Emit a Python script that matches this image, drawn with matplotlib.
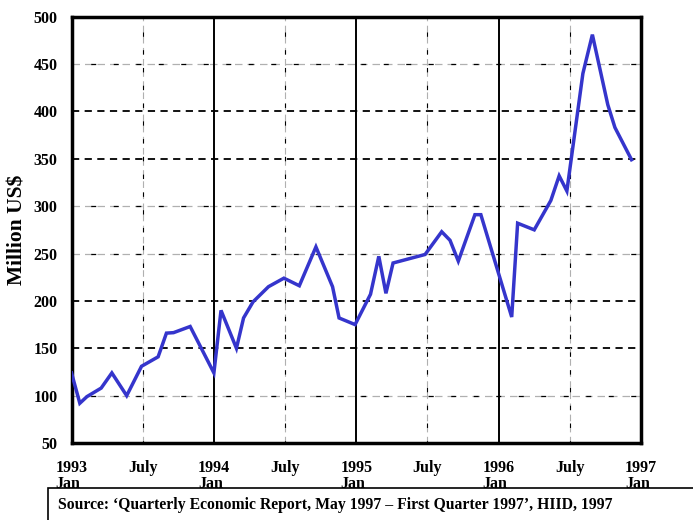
import numpy as np
import matplotlib.pyplot as plt
from matplotlib.patches import Rectangle

# months since Jan 1993 (readings are not exactly on month boundaries)
months = [0.0, 0.7, 1.3, 2.5, 3.4, 4.65, 5.9, 7.3, 8.0, 8.6, 10.0, 12.0, 12.6,
          13.9, 14.5, 15.3, 16.6, 17.9, 19.2, 20.6, 22.0, 22.55, 23.9, 25.2,
          25.9, 26.5, 27.1, 29.8, 31.2, 31.9, 32.6, 34.0, 34.5, 37.1, 37.6,
          39.0, 40.4, 41.1, 41.75, 43.1, 43.9, 45.2, 45.8, 47.2]
exports = [124, 92, 99, 108, 124, 100, 131, 141, 166, 166.5, 173, 124, 190,
           150, 182, 199, 215, 224, 216, 257, 215, 182, 175, 207,
           247, 208, 240, 249, 273, 264, 242, 291, 291, 183, 282,
           275, 306, 332, 316, 440, 481, 407, 383, 349]

tick_pos = [0, 6, 12, 18, 24, 30, 36, 42, 48]
tick_labels = ['1993\nJan', 'July', '1994\nJan', 'July', '1995\nJan', 'July',
               '1996\nJan', 'July', '1997\nJan']
y_ticks = [50, 100, 150, 200, 250, 300, 350, 400, 450, 500]
dark_rows = [150, 200, 350, 400]
light_rows = [100, 250, 300, 450]
source = ('Source: \u2018Quarterly Economic Report, May 1997 \u2013 First Quarter '
          '1997\u2019, HIID, 1997')

plt.rcParams['font.family'] = ['Liberation Serif', 'DejaVu Serif']
plt.rcParams['font.weight'] = 'bold'

fig = plt.figure(figsize=(6.93, 5.2), dpi=100)
ax = fig.add_axes([0.1032, 0.148, 0.8218, 0.820])

# grid
for y in dark_rows:
    ax.axhline(y, color='black', lw=1.3, ls=(0, (4, 3)), zorder=1)
for y in light_rows:
    ax.axhline(y, color='#b0b0b0', lw=0.9, ls=(0, (6, 4)), zorder=1)
    ax.axhline(y, color='black', lw=0.9, ls=(3, (4, 14)), zorder=1)
for x in tick_pos[1:-1]:
    if x % 12 == 0:
        ax.axvline(x, color='black', lw=1.4, zorder=1)
    else:
        ax.axvline(x, color='#b0b0b0', lw=0.8, ls=(0, (6, 4)), zorder=1)
        ax.axvline(x, color='black', lw=0.8, ls=(2, (4, 12)), zorder=1)

ax.plot(months, exports, color='#3535cc', lw=2.5, solid_joinstyle='miter', zorder=3)

ax.set_xlim(0, 48)
ax.set_ylim(50, 500)
ax.set_xticks(tick_pos)
ax.set_xticklabels(tick_labels, fontsize=11.5, fontweight='bold', linespacing=1.0,
                   multialignment='left')
ax.set_yticks(y_ticks)
ax.set_yticklabels([str(v) for v in y_ticks], fontsize=11.5, fontweight='bold')
ax.tick_params(length=0, pad=12, axis='x')
ax.tick_params(length=0, pad=10, axis='y')
ax.set_ylabel('Million US$', fontsize=15.5, fontweight='bold', labelpad=4)
for s in ax.spines.values():
    s.set_linewidth(2.5)

# source box
fig.patches.append(Rectangle((48 / 693, -0.05), 0.95, (520 - 488) / 520 + 0.05,
                             transform=fig.transFigure, fill=False,
                             edgecolor='black', lw=1.2))
fig.text(58 / 693, 1 - 505 / 520, source, fontsize=11.3, fontweight='bold',
         va='center', ha='left')

fig.savefig('out.png', dpi=100)
